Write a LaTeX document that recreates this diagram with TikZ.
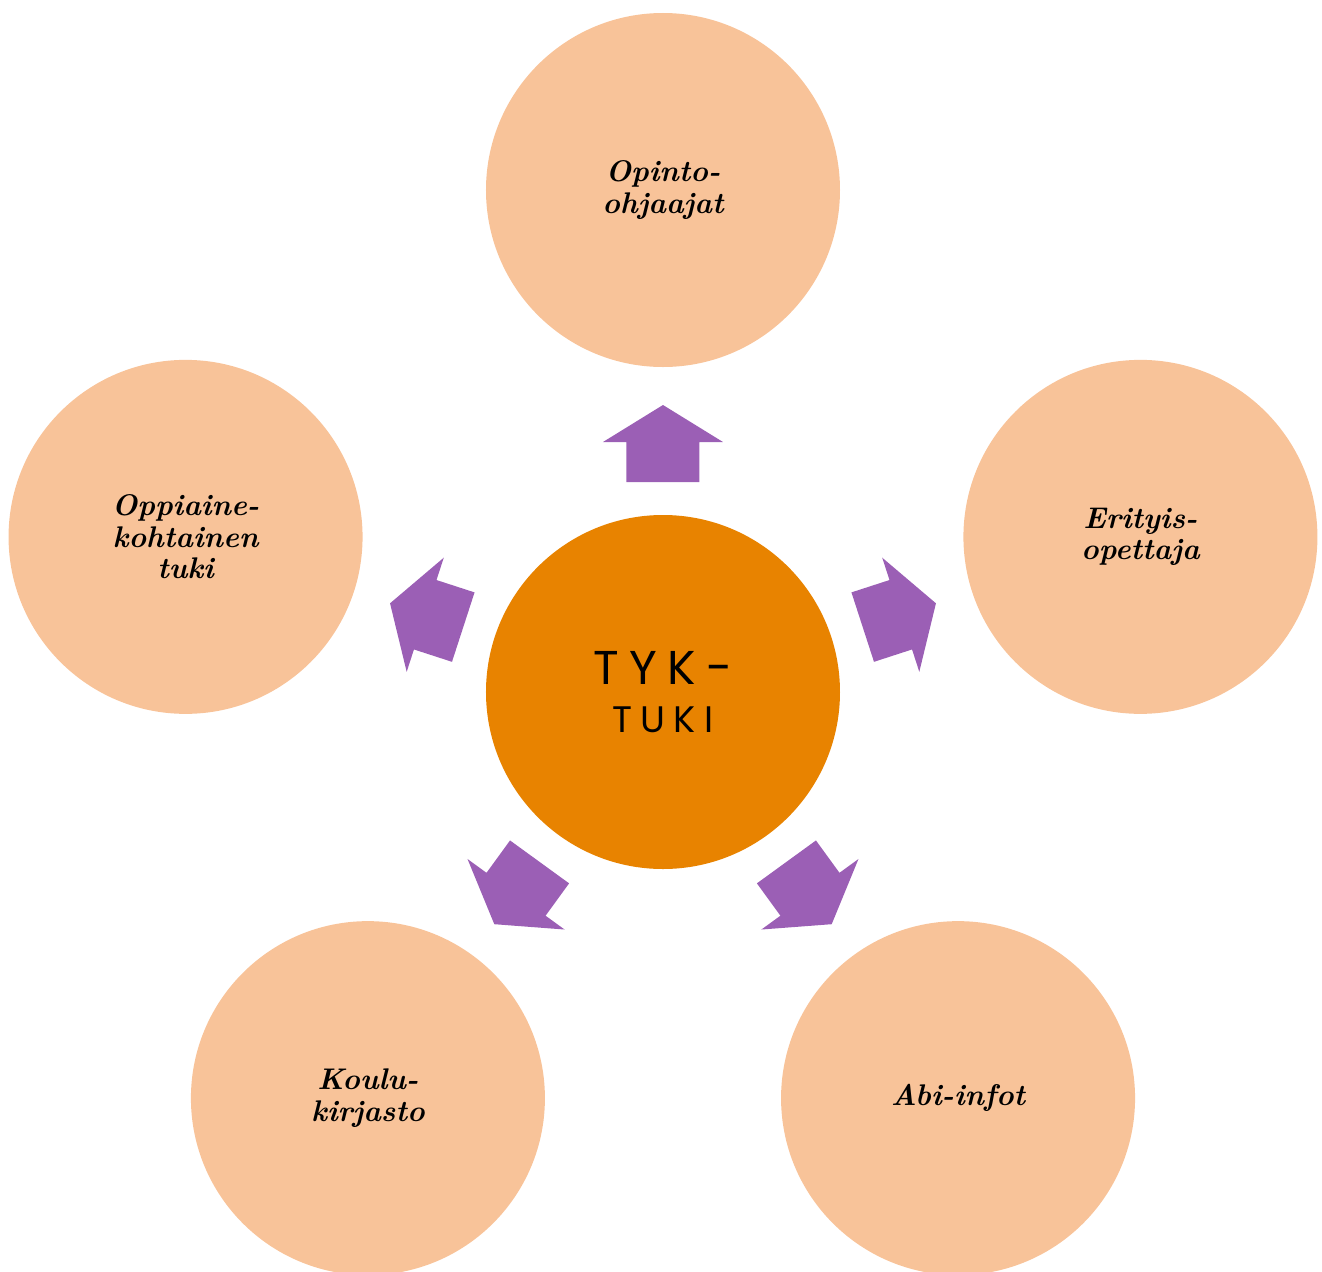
\documentclass[tikz,border=0pt]{standalone}
\usepackage{fontspec}
\setsansfont{Poppins}
\definecolor{leafpeach}{HTML}{F8C399}
\definecolor{huborange}{HTML}{E88300}
\definecolor{arrowpurple}{HTML}{9B5FB5}
\begin{document}
\begin{tikzpicture}[x=0.2mm,y=0.2mm,
    leaf/.style={circle,fill=leafpeach,minimum size=70.8mm,inner sep=0pt,align=center,
      font=\fontsize{17}{17.8}\selectfont\bfseries\itshape\addfontfeature{LetterSpace=6}},
    hub/.style={circle,fill=huborange,minimum size=70.8mm,inner sep=0pt,align=center,
      font=\sffamily\fontsize{21}{27.5}\selectfont\addfontfeature{LetterSpace=22}}]
  \clip (-663,692) rectangle (659,-579);
  \useasboundingbox (-663,692) rectangle (659,-579);
  % hub and the five topics
  \node[hub] (tyk) at (0,0) {{\fontsize{27}{27.5}\selectfont\addfontfeature{LetterSpace=22}TYK-}\\TUKI};
  \node[leaf] (opo) at (90:502) {Opinto-\\ohjaajat};
  \node[leaf] (eri) at (18:502) {Erityis-\\opettaja};
  \node[leaf] (abi) at (-54:502) {Abi-infot};
  \node[leaf] (kir) at (-126:502) {Koulu-\\kirjasto};
  \node[leaf] (opp) at (162:502) {Oppiaine-\\kohtainen\\tuki};
  % block arrows
  \foreach \a in {90,18,-54,-126,162}
    \fill[arrowpurple,rotate around={\a:(tyk.center)}]
      (210,-36.5) -- (250,-36.5) -- (250,-60) -- (287,0)
      -- (250,60) -- (250,36.5) -- (210,36.5) -- cycle;
\end{tikzpicture}
\end{document}
